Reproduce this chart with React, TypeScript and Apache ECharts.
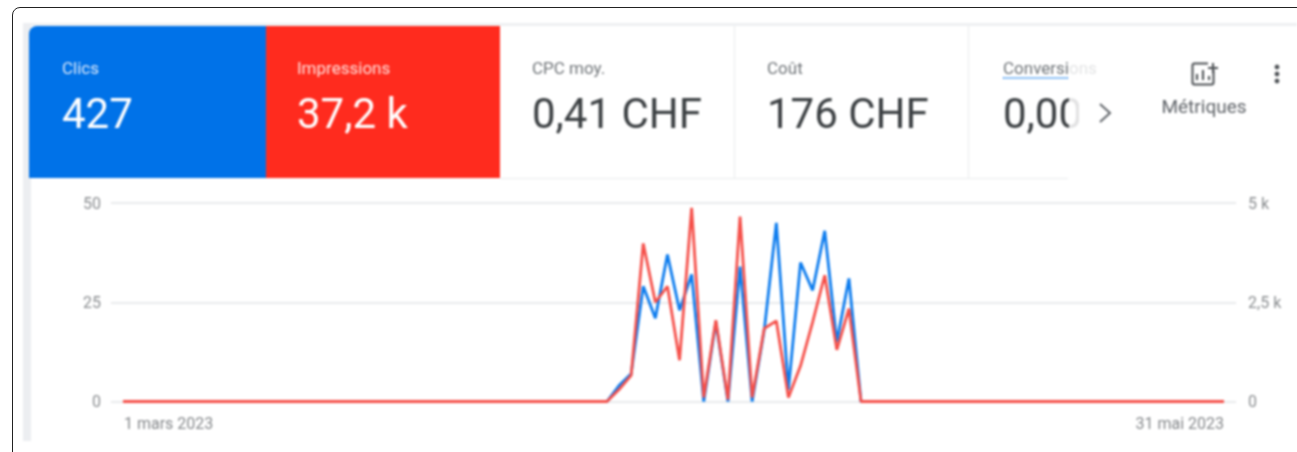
import React, { useEffect, useRef } from "react";
import * as echarts from "echarts";

const BLUE = "#0072e8";
const RED = "#ff2b1e";
const FONT = "Roboto, sans-serif";

// One blank day on each side keeps the grid lines wider than the plotted period.
const dayLabels: string[] = Array.from({ length: 94 }, (_, i) => `d${i}`);
const firstDate = "1 mars 2023";
const lastDate = "31 mai 2023";

const leadingZeros = [null, ...new Array(41).fill(0)];
const trailingZeros = [...new Array(30).fill(0), null];
const clicsActive = [4, 7, 29, 21, 37, 23, 32, 0, 20, 0, 34, 0, 18, 45, 3, 35, 28, 43, 15, 31, 0];
const impressionsActive = [300, 660, 3980, 2500, 2900, 1040, 4880, 100, 2050, 50, 4660, 100, 1840, 2030, 100, 900, 2000, 3180, 1300, 2340, 0];
const clics = [...leadingZeros, ...clicsActive, ...trailingZeros];
const impressions = [...leadingZeros, ...impressionsActive, ...trailingZeros];

const leftTicks = ["0", "25", "50"];
const rightTicks = ["0", "2,5 k", "5 k"];

const cards = [
  { label: "Clics", value: "427", x: 62, color: "#ffffff", labelColor: "#dbe9fb" },
  { label: "Impressions", value: "37,2 k", x: 297, color: "#ffffff", labelColor: "#ffe0dc" },
  { label: "CPC moy.", value: "0,41 CHF", x: 532, color: "#3c4043", labelColor: "#6f7478" },
  { label: "Coût", value: "176 CHF", x: 767, color: "#3c4043", labelColor: "#6f7478" },
  { label: "Conversions", value: "0,00", x: 1003, color: "#3c4043", labelColor: "#6f7478" },
];

export default function App() {
  const ref = useRef<HTMLDivElement>(null);
  useEffect(() => {
    document.body.style.margin = "0";
    const chart = echarts.init(ref.current!, undefined, { renderer: "svg" });
    const lineStyle = { stroke: "#e9ebed", lineWidth: 1 };
    const iconLine = { stroke: "#4a4e52", lineWidth: 2, fill: "none" };
    chart.setOption({
      animation: false,
      backgroundColor: "#ffffff",
      grid: { left: 110.9, right: 1297 - 1236.1, top: 203, height: 198.5 },
      xAxis: {
        type: "category",
        data: dayLabels,
        boundaryGap: false,
        axisLine: { show: false },
        axisTick: { show: false },
        axisLabel: { show: false },
      },
      yAxis: [
        {
          type: "value", min: 0, max: 50, interval: 25,
          axisLine: { show: false }, axisTick: { show: false },
          axisLabel: { color: "#8a8d90", fontSize: 16, fontFamily: FONT, margin: 10,
            formatter: (v: number) => leftTicks[v / 25] },
          splitLine: { lineStyle: { color: "#e8eaec", width: 2 } },
        },
        {
          type: "value", min: 0, max: 5000, interval: 2500,
          axisLine: { show: false }, axisTick: { show: false },
          axisLabel: { color: "#8a8d90", fontSize: 16, fontFamily: FONT, margin: 12,
            formatter: (v: number) => rightTicks[v / 2500] },
          splitLine: { show: false },
        },
      ],
      series: [
        { name: "Clics", type: "line", yAxisIndex: 0, data: clics, showSymbol: false,
          lineStyle: { color: "#0d7cee", width: 2.8 }, z: 3 },
        { name: "Impressions", type: "line", yAxisIndex: 1, data: impressions, showSymbol: false,
          lineStyle: { color: "#f5504a", width: 2.8 }, z: 4 },
      ],
      graphic: [
        { type: "rect", z: 0, shape: { x: 23, y: 23, width: 1274, height: 3 }, style: { fill: "#eef0f2" } },
        { type: "rect", z: 0, shape: { x: 23, y: 23, width: 8, height: 418 }, style: { fill: "#eceef1" } },
        { type: "rect", z: 1, shape: { x: 29, y: 26, width: 245, height: 152, r: [8, 0, 0, 0] }, style: { fill: BLUE } },
        { type: "rect", z: 1, shape: { x: 266, y: 26, width: 234, height: 152 }, style: { fill: RED } },
        { type: "line", z: 1, shape: { x1: 734.5, y1: 26, x2: 734.5, y2: 178 }, style: lineStyle },
        { type: "line", z: 1, shape: { x1: 968.5, y1: 26, x2: 968.5, y2: 178 }, style: lineStyle },
        { type: "line", z: 1, shape: { x1: 500, y1: 178.5, x2: 1068, y2: 178.5 }, style: lineStyle },
        ...cards.flatMap((c) => [
          { type: "text", z: 2, x: c.x, y: 68,
            style: { text: c.label, fill: c.labelColor, font: `17px ${FONT}`, textVerticalAlign: "middle" } },
          { type: "text", z: 2, x: c.x, y: 113,
            style: { text: c.value, fill: c.color, font: `42px ${FONT}`, textVerticalAlign: "middle" } },
        ]),
        { type: "rect", z: 3, shape: { x: 1069, y: 56, width: 40, height: 24 }, style: { fill: "#ffffff", opacity: 0.8 } },
        { type: "rect", z: 3, shape: { x: 1069, y: 88, width: 10, height: 50 }, style: { fill: "#ffffff", opacity: 0.85 } },
        { type: "rect", z: 3, shape: { x: 1079, y: 88, width: 50, height: 50 }, style: { fill: "#ffffff" } },
        { type: "line", z: 4, shape: { x1: 1003, y1: 78, x2: 1069, y2: 78 },
          style: { stroke: "#5aa5f2", lineWidth: 2, lineDash: [2, 1] } },
        { type: "polyline", z: 4, shape: { points: [[1100, 104], [1110, 113], [1100, 122]] },
          style: { fill: "none", stroke: "#5f6368", lineWidth: 2 } },
        { type: "text", z: 2, x: 1204, y: 106,
          style: { text: "Métriques", fill: "#5f6368", font: `19px ${FONT}`, textAlign: "center", textVerticalAlign: "middle" } },
        { type: "rect", z: 2, shape: { x: 1192.5, y: 63.5, width: 21, height: 21, r: 2 },
          style: { fill: "none", stroke: "#4a4e52", lineWidth: 2 } },
        { type: "polyline", z: 2, shape: { points: [[1197, 80], [1197, 74]] }, style: iconLine },
        { type: "polyline", z: 2, shape: { points: [[1203, 80], [1203, 70]] }, style: iconLine },
        { type: "polyline", z: 2, shape: { points: [[1209, 80], [1209, 76]] }, style: iconLine },
        { type: "rect", z: 2, shape: { x: 1208, y: 62, width: 8, height: 8 }, style: { fill: "#ffffff" } },
        { type: "polyline", z: 2, shape: { points: [[1208, 68], [1218, 68]] }, style: iconLine },
        { type: "polyline", z: 2, shape: { points: [[1213, 63], [1213, 73]] }, style: iconLine },
        { type: "circle", z: 2, shape: { cx: 1277, cy: 67, r: 2.4 }, style: { fill: "#4a4e52" } },
        { type: "circle", z: 2, shape: { cx: 1277, cy: 74, r: 2.4 }, style: { fill: "#4a4e52" } },
        { type: "circle", z: 2, shape: { cx: 1277, cy: 81, r: 2.4 }, style: { fill: "#4a4e52" } },
        { type: "text", z: 2, x: 124, y: 423,
          style: { text: firstDate, fill: "#85888b", font: `16px ${FONT}`, textVerticalAlign: "middle" } },
        { type: "text", z: 2, x: 1224, y: 423,
          style: { text: lastDate, fill: "#85888b", font: `16px ${FONT}`, textAlign: "right", textVerticalAlign: "middle" } },
      ],
    });
    return () => chart.dispose();
  }, []);
  return (
    <div style={{ position: "relative", width: 1297, height: 452, overflow: "hidden" }}>
      <div ref={ref} style={{ width: 1297, height: 452, filter: "blur(0.8px)" }} />
      <div
        style={{
          position: "absolute", left: 12, top: 7, width: 1400, height: 600,
          border: "1px solid #222222", borderRadius: 8, pointerEvents: "none",
        }}
      />
    </div>
  );
}
